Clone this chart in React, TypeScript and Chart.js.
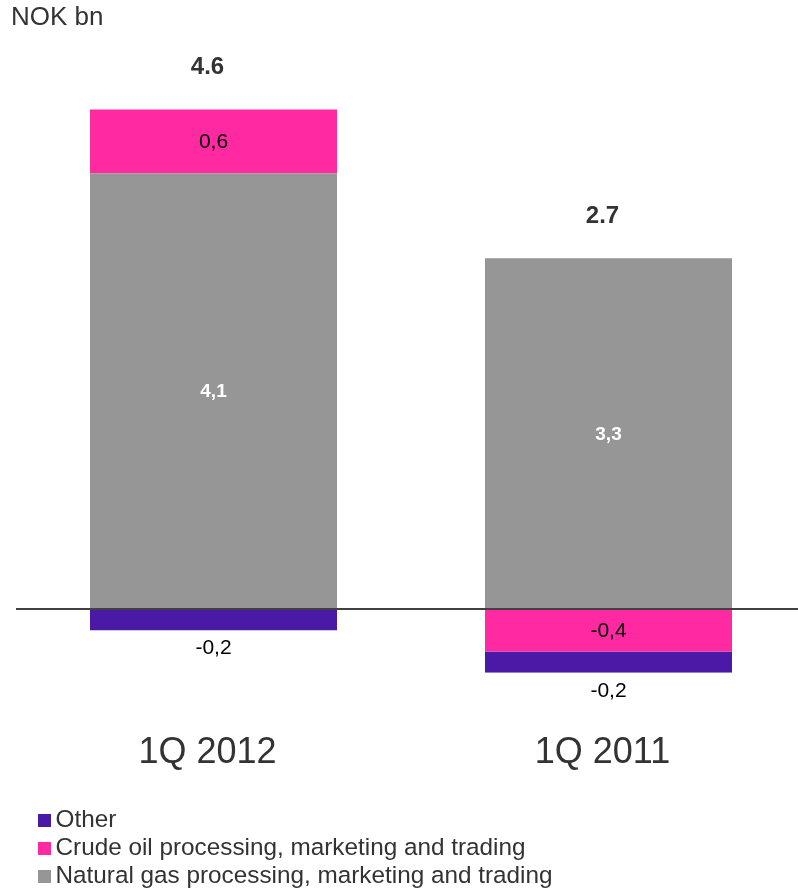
import React, { useEffect, useRef } from "react";
import { Chart, registerables } from "chart.js";

Chart.register(...registerables);

const categories = ["1Q 2012", "1Q 2011"];
const naturalGas = [4.1, 3.3];
const crudeOil = [0.6, -0.4];
const other = [-0.2, -0.2];
const totals = [4.6, 2.7];
const seriesNames = [
  "Natural gas processing, marketing and trading",
  "Crude oil processing, marketing and trading",
  "Other",
];
const seriesColors = ["#969696", "#ff29a1", "#4a19a5"];
const yMin = -0.6;
const yMax = 5.0;
const unitLabel = "NOK bn";

const FONT = "'Liberation Sans', Arial, Helvetica, sans-serif";

const fmtComma = (v: number) => v.toFixed(1).replace(".", ",");

const overlayPlugin = {
  id: "overlay",
  afterDatasetsDraw(chart: any) {
    const ctx = chart.ctx as CanvasRenderingContext2D;
    const area = chart.chartArea;
    const yScale = chart.scales.y;
    const zeroY = yScale.getPixelForValue(0);
    ctx.save();

    // zero line
    ctx.strokeStyle = "#404040";
    ctx.lineWidth = 2;
    ctx.beginPath();
    ctx.moveTo(area.left, zeroY);
    ctx.lineTo(798, zeroY);
    ctx.stroke();

    // segment labels
    chart.data.datasets.forEach((ds: any, di: number) => {
      const meta = chart.getDatasetMeta(di);
      meta.data.forEach((el: any, i: number) => {
        const v = ds.data[i] as number;
        const top = Math.min(el.y, el.base);
        const bottom = Math.max(el.y, el.base);
        const h = bottom - top;
        const txt = fmtComma(v);
        ctx.textAlign = "center";
        ctx.textBaseline = "middle";
        if (di === 0) {
          ctx.font = `bold 19px ${FONT}`;
          ctx.fillStyle = "#ffffff";
          ctx.fillText(txt, el.x, (top + bottom) / 2 + 1);
        } else if (h >= 30) {
          ctx.font = `21px ${FONT}`;
          ctx.fillStyle = "#000000";
          ctx.fillText(txt, el.x, (top + bottom) / 2 + 1);
        } else {
          ctx.font = `21px ${FONT}`;
          ctx.fillStyle = "#000000";
          ctx.fillText(txt, el.x, bottom + 18);
        }
      });
    });

    // totals
    categories.forEach((_, i) => {
      let topY = zeroY;
      chart.data.datasets.forEach((_ds: any, di: number) => {
        const el: any = chart.getDatasetMeta(di).data[i];
        topY = Math.min(topY, el.y, el.base);
      });
      const x = chart.getDatasetMeta(0).data[i].x;
      ctx.font = `bold 24px ${FONT}`;
      ctx.fillStyle = "#333333";
      ctx.textAlign = "center";
      ctx.textBaseline = "alphabetic";
      ctx.fillText(totals[i].toFixed(1), x - 6, topY - 35);
    });

    // category labels
    categories.forEach((c, i) => {
      const x = chart.getDatasetMeta(0).data[i].x;
      ctx.font = `36px ${FONT}`;
      ctx.fillStyle = "#333333";
      ctx.textAlign = "center";
      ctx.textBaseline = "alphabetic";
      ctx.fillText(c, x - 6, 763);
    });

    // unit label
    ctx.font = `26px ${FONT}`;
    ctx.fillStyle = "#333333";
    ctx.textAlign = "left";
    ctx.textBaseline = "alphabetic";
    ctx.fillText(unitLabel, 11, 25);

    // legend (reverse order)
    const order = [2, 1, 0];
    order.forEach((di, row) => {
      const base = 827 + row * 28;
      ctx.fillStyle = seriesColors[di];
      ctx.fillRect(38, base - 13, 13, 13);
      ctx.font = `24.3px ${FONT}`;
      ctx.fillStyle = "#333333";
      ctx.textAlign = "left";
      ctx.textBaseline = "alphabetic";
      ctx.fillText(seriesNames[di], 55.5, base);
    });

    ctx.restore();
  },
};

export default function App() {
  const ref = useRef<HTMLCanvasElement | null>(null);

  useEffect(() => {
    const prevMargin = document.body.style.margin;
    document.body.style.margin = "0";
    const canvas = ref.current!;
    const chart = new Chart(canvas, {
      type: "bar",
      data: {
        labels: categories,
        datasets: [
          { label: seriesNames[0], data: naturalGas, backgroundColor: seriesColors[0] },
          { label: seriesNames[1], data: crudeOil, backgroundColor: seriesColors[1] },
          { label: seriesNames[2], data: other, backgroundColor: seriesColors[2] },
        ],
      },
      options: {
        responsive: false,
        animation: false,
        devicePixelRatio: 1,
        layout: { padding: { top: 77.5, bottom: 218.2, left: 16, right: 0 } },
        datasets: { bar: { barPercentage: 1, categoryPercentage: 0.6253 } },
        plugins: { legend: { display: false }, tooltip: { enabled: false }, title: { display: false } },
        scales: {
          x: { display: false, stacked: true, offset: true },
          y: { display: false, stacked: true, min: yMin, max: yMax },
        },
      },
      plugins: [overlayPlugin],
    });
    return () => {
      chart.destroy();
      document.body.style.margin = prevMargin;
    };
  }, []);

  return (
    <div style={{ position: "absolute", left: 0, top: 0, width: 798, height: 891, overflow: "hidden", background: "#ffffff" }}>
      <canvas ref={ref} width={806} height={891} style={{ display: "block", width: 806, height: 891 }} />
    </div>
  );
}
